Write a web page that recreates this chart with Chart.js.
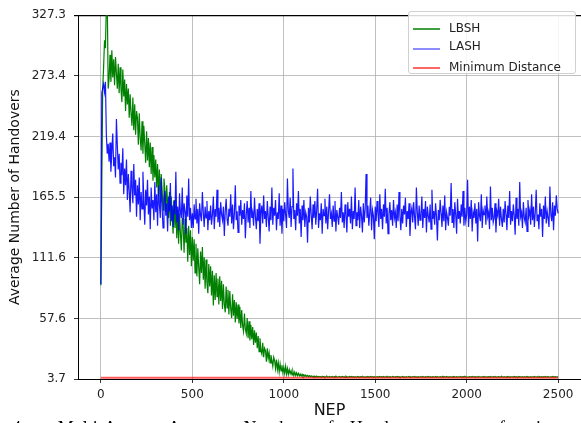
<!DOCTYPE html>
<html>
<head>
<meta charset="utf-8">
<script src="https://cdn.jsdelivr.net/npm/chart.js@4.4.1/dist/chart.umd.min.js"></script>
<style>
  html, body { margin: 0; padding: 0; background: #fff; }
  #wrap { position: relative; width: 581px; height: 423px; overflow: hidden; }
  #legend {
    position: absolute; left: 408px; top: 11px; width: 166px; height: 61px;
    border: 1px solid #d0d0d0; border-radius: 3px; background: rgba(255,255,255,0.85);
    font-family: "DejaVu Sans", sans-serif; font-size: 12px; color: #222;
  }
  #legend .row { position: absolute; left: 0; height: 14px; }
  #legend .swatch { position: absolute; left: 4px; top: 6px; width: 27px; height: 1.6px; }
  #legend .lbl { position: absolute; left: 40px; top: -1px; white-space: nowrap; }
  #caption {
    position: absolute; left: 12px; top: 418px; width: 578px; white-space: nowrap;
    font-family: "Liberation Serif", serif; font-size: 18px; color: #000;
    text-align: justify; text-align-last: justify;
  }
</style>
</head>
<body>
<div id="wrap">
  <canvas id="handover-chart" width="581" height="423"></canvas>
  <div id="legend">
    <div class="row" style="top:10px"><span class="swatch" style="background:rgba(0,128,0,0.75)"></span><span class="lbl">LBSH</span></div>
    <div class="row" style="top:28px"><span class="swatch" style="background:rgba(0,0,255,0.45);top:8px"></span><span class="lbl">LASH</span></div>
    <div class="row" style="top:49px"><span class="swatch" style="background:rgba(255,0,0,0.6)"></span><span class="lbl">Minimum Distance</span></div>
  </div>
  <div id="caption">4.&nbsp; Multi-Agent: Average Number of Handovers as a function of</div>
</div>
<script>
// one value every 5 episodes (0 .. 2500)
var step = 5;

var lbsh = [
    87, 175, 262, 281, 305, 298, 336, 340, 262, 271,
    292, 268, 296, 272, 288, 265, 290, 276, 262, 284,
    258, 281, 262, 250, 279, 255, 270, 242, 266, 248,
    262, 236, 257, 240, 229, 254, 225, 248, 221, 242,
    236, 212, 240, 218, 207, 233, 204, 229, 213, 196,
    224, 198, 218, 192, 214, 186, 210, 180, 203, 183,
    199, 174, 195, 166, 190, 160, 186, 170, 154, 182,
    172, 152, 176, 158, 147, 170, 140, 166, 148, 133,
    163, 138, 158, 129, 154, 124, 151, 133, 118, 147,
    140, 116, 146, 125, 138, 108, 140, 114, 136, 104,
    130, 109, 128, 98, 124, 95, 120, 103, 88, 117,
    98, 121, 92, 112, 84, 110, 89, 80, 106, 86,
    104, 78, 100, 69, 96, 74, 98, 77, 93, 70,
    95, 73, 91, 66, 88, 70, 63, 86, 67, 83,
    61, 82, 66, 58, 79, 60, 74, 54, 72, 57,
    70, 53, 68, 49, 65, 51, 46, 62, 48, 44,
    58, 40, 55, 38, 52, 39, 50, 34, 47, 36,
    45, 31, 42, 28, 40, 29, 26, 36, 23, 31,
    29, 19, 31, 22, 27, 18, 25, 20, 15, 23,
    20, 13, 21, 12, 18, 10, 17, 11, 16, 9.5,
    14, 8.6, 15, 8.2, 13, 7.9, 12, 8.4, 11, 7.4,
    10.5, 7.0, 9.8, 6.8, 9.2, 6.6, 8.7, 6.5, 8.0, 6.3,
    7.9, 6.1, 7.4, 6.0, 7.2, 5.9, 6.9, 5.7, 6.6, 5.8,
    6.5, 5.6, 6.3, 5.5, 6.2, 5.4, 6.3, 5.3, 6.0, 5.6,
    5.8, 5.3, 6.1, 5.5, 5.9, 5.2, 5.7, 6.3, 5.4, 5.6,
    5.9, 5.4, 5.6, 6.0, 5.3, 5.8, 5.5, 6.2, 5.4, 5.7,
    5.5, 6.0, 5.3, 5.6, 5.9, 5.4, 5.7, 5.2, 6.1, 5.5,
    5.6, 5.3, 5.9, 5.5, 6.0, 5.4, 5.7, 5.3, 5.8, 5.5,
    5.4, 5.9, 5.6, 5.2, 5.8, 5.5, 6.1, 5.4, 5.6, 5.3,
    5.7, 5.5, 6.0, 5.3, 5.6, 5.9, 5.4, 5.7, 5.2, 5.8,
    5.5, 5.3, 5.8, 5.6, 5.4, 6.0, 5.5, 5.7, 5.3, 5.9,
    5.4, 5.7, 5.5, 6.1, 5.3, 5.6, 5.8, 5.4, 5.5, 5.9,
    5.6, 5.3, 5.7, 5.5, 6.0, 5.4, 5.8, 5.2, 5.6, 5.5,
    5.9, 5.4, 5.6, 5.3, 5.8, 5.5, 5.7, 6.0, 5.4, 5.6,
    5.3, 5.7, 5.5, 5.9, 5.4, 5.6, 5.2, 5.8, 5.5, 5.7,
    5.6, 5.4, 6.0, 5.5, 5.3, 5.8, 5.6, 5.4, 5.9, 5.5,
    5.7, 5.3, 5.6, 5.8, 5.4, 5.5, 6.0, 5.3, 5.7, 5.5,
    5.5, 5.8, 5.4, 5.6, 6.1, 5.3, 5.7, 5.5, 5.9, 5.4,
    5.6, 5.2, 5.8, 5.5, 5.7, 5.4, 6.0, 5.6, 5.3, 5.8,
    5.4, 5.7, 5.5, 5.9, 5.3, 5.6, 5.8, 5.5, 6.1, 5.4,
    5.7, 5.5, 5.3, 5.8, 5.6, 5.4, 5.9, 5.5, 5.7, 5.2,
    5.8, 5.4, 5.6, 6.0, 5.5, 5.3, 5.7, 5.6, 5.4, 5.9,
    5.5, 5.7, 5.4, 5.6, 5.8, 5.3, 6.0, 5.5, 5.6, 5.4,
    5.9, 5.5, 5.7, 5.3, 5.6, 5.8, 5.4, 5.5, 6.1, 5.6,
    5.3, 5.8, 5.5, 5.7, 5.4, 5.9, 5.6, 5.2, 5.7, 5.5,
    5.6, 5.4, 5.9, 5.5, 5.8, 5.3, 5.6, 6.0, 5.4, 5.7,
    5.5, 5.8, 5.3, 5.6, 5.7, 5.4, 5.9, 5.5, 5.6, 5.3,
    5.8, 5.5, 5.7, 5.4, 6.0, 5.6, 5.3, 5.7, 5.5, 5.9,
    5.4, 5.6, 5.8, 5.3, 5.7, 5.5, 6.0, 5.4, 5.6, 5.8,
    5.5, 5.3, 5.7, 5.6, 5.9, 5.4, 5.6, 5.8, 5.5, 5.7,
    5.6
];

var lash = [
    88, 258, 262, 266, 259, 268, 221, 204, 213, 197,
    214, 188, 206, 222, 193, 201, 183, 235, 212, 190,
    204, 178, 196, 185, 209, 168, 191, 176, 199, 163,
    186, 171, 152, 189, 174, 160, 195, 167, 181, 148,
    176, 159, 183, 145, 170, 155, 188, 162, 141, 172,
    158, 181, 150, 166, 137, 174, 156, 163, 145, 179,
    152, 168, 140, 176, 159, 147, 183, 155, 138, 164,
    171, 149, 160, 135, 166, 153, 178, 144, 158, 139,
    162, 150, 188, 143, 157, 136, 169, 152, 147, 174,
    141, 160, 153, 133, 167, 148, 182, 145, 156, 138,
    151, 138, 159, 146, 164, 142, 155, 133, 160, 149,
    144, 170, 152, 139, 157, 147, 162, 136, 153, 145,
    158, 141, 150, 166, 137, 155, 148, 172, 143, 156,
    139, 161, 150, 145, 157, 131, 153, 164, 146, 140,
    155, 148, 168, 142, 159, 137, 151, 176, 145, 153,
    134, 158, 149, 163, 141, 154, 146, 160, 129, 150,
    162, 143, 156, 138, 171, 147, 152, 140, 165, 148,
    137, 155, 144, 160, 124, 151, 158, 142, 167, 146,
    153, 139, 162, 148, 135, 157, 145, 174, 141, 156,
    149, 163, 136, 152, 146, 169, 140, 158, 133, 155,
    144, 161, 150, 138, 182, 153, 147, 165, 139, 157,
    191, 146, 154, 136, 160, 149, 171, 142, 155, 130,
    158, 145, 163, 139, 152, 148, 125, 156, 143, 166,
    150, 137, 159, 147, 162, 141, 154, 173, 138, 151,
    145, 160, 133, 155, 149, 164, 142, 157, 137, 153,
    168, 146, 151, 139, 158, 144, 162, 135, 154, 148,
    141, 156, 147, 170, 143, 152, 138, 159, 150, 134,
    161, 148, 155, 142, 166, 137, 153, 146, 174, 140,
    152, 145, 163, 138, 157, 149, 134, 160, 143, 155,
    186, 147, 158, 140, 152, 165, 136, 154, 149, 128,
    157, 144, 162, 151, 139, 168, 146, 155, 137, 159,
    148, 173, 142, 156, 133, 150, 161, 145, 154, 140,
    163, 147, 152, 138, 159, 144, 170, 149, 136, 155,
    142, 158, 150, 165, 139, 153, 146, 160, 131, 151,
    156, 143, 161, 148, 137, 174, 152, 140, 158, 145,
    150, 166, 138, 155, 147, 162, 134, 157, 149, 143,
    159, 137, 172, 146, 153, 141, 160, 148, 127, 154,
    145, 163, 151, 139, 158, 144, 167, 136, 152, 147,
    140, 157, 149, 178, 143, 155, 138, 161, 150, 133,
    164, 146, 153, 142, 159, 148, 171, 140, 156, 144,
    150, 181, 139, 157, 146, 163, 135, 152, 147, 160,
    142, 155, 126, 161, 149, 144, 168, 138, 154, 150,
    158, 141, 166, 148, 152, 137, 175, 145, 156, 143,
    147, 160, 134, 153, 149, 164, 140, 157, 146, 139,
    155, 143, 162, 150, 136, 158, 147, 171, 141, 153,
    144, 159, 149, 132, 165, 146, 155, 140, 179, 148,
    152, 138, 161, 147, 143, 156, 135, 163, 149, 154,
    141, 168, 145, 157, 139, 152, 172, 144, 150, 137,
    160, 148, 155, 130, 158, 146, 166, 142, 153, 147,
    139, 175, 150, 144, 161, 136, 158, 149, 167, 155,
    151
];

var minDistX = [0, 2500];
var minDist = [4.9, 4.9];

var xTicks = [0, 500, 1000, 1500, 2000, 2500];
var yTicks = [3.7, 57.6, 111.6, 165.5, 219.4, 273.4, 327.3];

function toPoints(values) {
    return values.map(function (v, i) { return { x: i * step, y: v }; });
}

var gridGray = '#b0b0b0';

var layout = {
    type: 'line',
    data: {
        datasets: [{
            label: 'LBSH',
            data: toPoints(lbsh),
            borderColor: 'rgb(0, 128, 0)',
            borderWidth: 1.2,
            order: 2
        }, {
            label: 'LASH',
            data: toPoints(lash),
            borderColor: 'rgba(0, 0, 255, 0.9)',
            borderWidth: 1.2,
            order: 1
        }, {
            label: 'Minimum Distance',
            data: minDist.map(function (v, i) { return { x: minDistX[i], y: v }; }),
            borderColor: 'rgba(255, 0, 0, 0.65)',
            borderWidth: 2,
            order: 0
        }]
    },
    options: {
        responsive: false,
        animation: false,
        devicePixelRatio: 1,
        elements: {
            point: { radius: 0 },
            line: { tension: 0 }
        },
        layout: {
            padding: { top: 5, right: 0, bottom: 0, left: 0 }
        },
        plugins: {
            legend: { display: false },
            tooltip: { enabled: false }
        },
        scales: {
            x: {
                type: 'linear',
                min: -125,
                max: 2625,
                afterBuildTicks: function (s) { s.ticks = xTicks.map(function (v) { return { value: v }; }); },
                afterFit: function (s) { s.height = 44; },
                grid: { color: gridGray, lineWidth: 0.8, tickLength: 4, tickColor: '#000' },
                border: { color: '#000', width: 1 },
                ticks: {
                    color: '#222',
                    padding: 5,
                    maxRotation: 0,
                    font: { family: 'DejaVu Sans', size: 12 },
                    callback: function (v) { return String(v); }
                },
                title: {
                    display: true,
                    text: 'NEP',
                    color: '#111',
                    padding: { top: 0, bottom: 3 },
                    font: { family: 'DejaVu Sans', size: 16 }
                }
            },
            y: {
                min: 3.7,
                max: 327.3,
                afterBuildTicks: function (s) { s.ticks = yTicks.map(function (v) { return { value: v }; }); },
                afterFit: function (s) { s.width = 78; },
                grid: {
                    color: function (c) { return c.tick && c.tick.value === 327.3 ? '#000' : gridGray; },
                    lineWidth: function (c) { return c.tick && c.tick.value === 327.3 ? 1.2 : 0.8; },
                    tickLength: 4,
                    tickColor: '#000'
                },
                border: { color: '#000', width: 1 },
                ticks: {
                    color: '#222',
                    padding: 8,
                    font: { family: 'DejaVu Sans', size: 12 },
                    callback: function (v) { return v.toFixed(1); }
                },
                title: {
                    display: true,
                    text: 'Average Number of Handovers',
                    color: '#111',
                    padding: { top: 7, bottom: 0 },
                    font: { family: 'DejaVu Sans', size: 14 }
                }
            }
        }
    }
};

var handoverChart = document.getElementById('handover-chart');
new Chart(handoverChart, layout);
</script>
</body>
</html>
